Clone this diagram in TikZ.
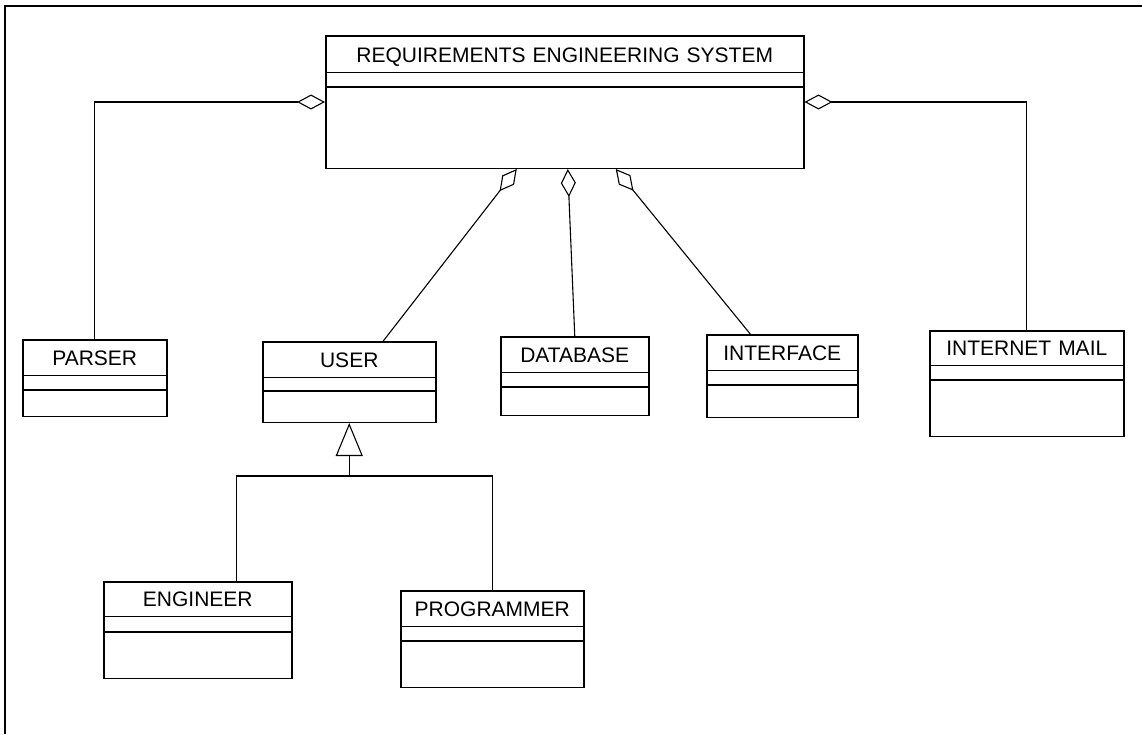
\documentclass[tikz,border=0pt]{standalone}
\usepackage{fontspec}
\newfontfamily\umlfont{Liberation Sans}
\usepackage{tikz}
\usetikzlibrary{arrows.meta,shapes.multipart}
\newcommand{\titlestrut}[1]{\rule[-9.5pt]{0pt}{#1pt}}
\newcommand{\compstrut}[1]{\rule{0pt}{#1pt}}
\tikzset{
  umlclass/.style={draw, line width=1.5pt, rectangle split, rectangle split parts=3,
    inner sep=0pt, anchor=north west, align=center,
    font=\umlfont\fontsize{21}{25}\selectfont},
  aggr/.style={line width=1.1pt, {Diamond[open,length=28pt,width=15pt]}-},
  inherit/.style={line width=1.1pt, -{Triangle[open,length=33pt,width=27pt]}},
  link/.style={line width=1.1pt}
}

\begin{document}
\begin{tikzpicture}[x=1pt, y=1pt]
    \useasboundingbox (0,0) rectangle (1142,-734);
    \draw[line width=2pt] (1142,-6) -- (4.5,-6) -- (4.5,-734);
    \node[umlclass, text width=478pt] (res) at (325,-35) {\titlestrut{35}REQUIREMENTS ENGINEERING SYSTEM\nodepart{second}\compstrut{13}\nodepart{third}\compstrut{80}};
    \node[umlclass, text width=144pt] (parser) at (22,-339) {\titlestrut{34}PARSER\nodepart{second}\compstrut{13}\nodepart{third}\compstrut{25}};
    \node[umlclass, text width=173pt] (user) at (262,-341) {\titlestrut{34}USER\nodepart{second}\compstrut{12}\nodepart{third}\compstrut{30}};
    \node[umlclass, text width=148pt] (db) at (500,-336) {\titlestrut{34}DATABASE\nodepart{second}\compstrut{13}\nodepart{third}\compstrut{27}};
    \node[umlclass, text width=151pt] (iface) at (706,-334) {\titlestrut{34}INTERFACE\nodepart{second}\compstrut{13}\nodepart{third}\compstrut{31}};
    \node[umlclass, text width=194pt] (mail) at (929,-330) {\titlestrut{33}INTERNET MAIL\nodepart{second}\compstrut{13}\nodepart{third}\compstrut{55}};
    \node[umlclass, text width=188pt] (eng) at (103,-581) {\titlestrut{33}ENGINEER\nodepart{second}\compstrut{14}\nodepart{third}\compstrut{45}};
    \node[umlclass, text width=183pt] (prog) at (400,-590) {\titlestrut{34}PROGRAMMER\nodepart{second}\compstrut{13}\nodepart{third}\compstrut{45}};
    \coordinate (fork) at ([yshift=-53pt]user.south);

    \draw[aggr] (res.west) -| (parser.north);
    \draw[aggr] (res.east) -| (mail.north);
    \draw[aggr] ([xshift=-48pt]res.south) -- ([xshift=34pt]user.north);
    \draw[aggr] ([xshift=3pt]res.south) -- (db.north);
    \draw[aggr] ([xshift=51pt]res.south) -- ([xshift=-32pt]iface.north);
    \draw[inherit] (fork) -- (user.south);
    \draw[link] (fork) -| ([xshift=39pt]eng.north);
    \draw[link] (fork) -| (prog.north);
\end{tikzpicture}
\end{document}
